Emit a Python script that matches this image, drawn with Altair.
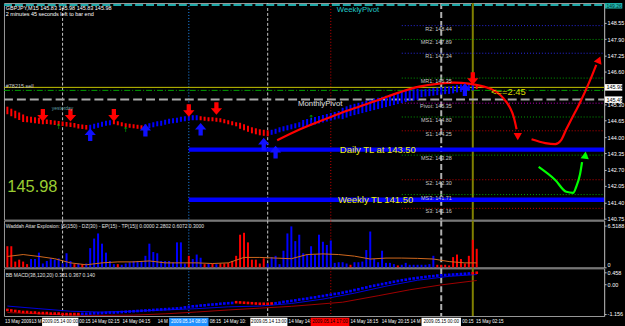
import altair as alt
import pandas as pd

# ---------------- x: M15 bar number, 0 = 2009.05.14 00:00 (4 bars per hour) ----------------
X_MIN, X_MAX = -14.86, 137.3
FIRST_BAR = -14

# ---------------- price panel ----------------
price_mid = [145.06, 144.98, 144.90, 144.83, 144.75, 144.71, 144.69, 144.67, 144.65, 144.63, 144.61, 144.59, 144.57, 144.55,
             144.53, 144.51, 144.49, 144.47, 144.43, 144.41, 144.39, 144.39, 144.43, 144.47, 144.51, 144.55, 144.57, 144.59,
             144.55, 144.51, 144.47, 144.45, 144.43, 144.41, 144.39, 144.41, 144.45, 144.49, 144.53, 144.55, 144.59, 144.63,
             144.65, 144.67, 144.71, 144.73, 144.75, 144.77, 144.77, 144.75, 144.73, 144.71, 144.71, 144.69, 144.67, 144.63,
             144.59, 144.55, 144.51, 144.45, 144.39, 144.33, 144.27, 144.23, 144.19, 144.17, 144.15, 144.19, 144.23, 144.29,
             144.33, 144.37, 144.41, 144.45, 144.49, 144.53, 144.57, 144.61, 144.65, 144.69, 144.73, 144.77, 144.81, 144.85,
             144.89, 144.94, 145.00, 145.06, 145.10, 145.14, 145.18, 145.22, 145.26, 145.30, 145.34, 145.38, 145.42, 145.46,
             145.50, 145.54, 145.58, 145.62, 145.66, 145.68, 145.70, 145.74, 145.76, 145.78, 145.80, 145.82, 145.84, 145.86,
             145.87, 145.89, 145.93, 145.95, 145.97, 145.99, 146.01, 146.01]
price_span_runs = [(0.30, 5), (0.24, 5), (0.18, 11), (0.20, 6), (0.16, 8), (0.20, 14), (0.16, 10), (0.24, 8),
                   (0.20, 8), (0.30, 10), (0.45, 20), (0.30, 14), (0.20, 1)]
price_dir_runs = [("down", 21), ("up", 6), ("down", 8), ("up", 14), ("down", 18), ("up", 52), ("down", 1)]

down_arrow_bar = [-5, 2, 13, 32, 39, 104]
down_arrow_price = [144.87, 144.87, 144.87, 145.06, 145.14, 146.33]
up_arrow_bar = [7, 21, 35, 51, 54, 102]
up_arrow_price = [144.09, 144.27, 144.31, 143.72, 143.40, 145.89]
tick_arrow_bar = [-1, 16, 63]
tick_arrow_price = [144.39, 144.27, 144.75]

pivot_names = ["R2", "MR2", "R1", "MR1", "Pivot", "MS1", "S1", "MS2", "S2", "MS3", "S3"]
pivot_levels = [148.44, 147.89, 147.34, 146.35, 145.35, 144.80, 144.25, 143.28, 142.30, 141.71, 141.16]
pivot_colours = ["#2828E6", "#00A000", "#2828E6", "#00A000", "#C000C0", "#00A000", "#C80000",
                 "#00A000", "#C80000", "#00A000", "#C80000"]
PIVOT_START = 86
PIVOT_LABEL_AT = 98.7

tl_names = ["Daily TL at 143.50", "Weekly TL 141.50"]
tl_levels = [143.50, 141.50]
tl_label_at = [70.3, 69.8]
TL_START = 32

hl_levels = [149.26, 145.98, 145.86, 145.50]
hl_colours = ["#1FA9A9", "#C8C800", "#00A000", "#A8A8A8"]
hl_dash = [[8, 3], [], [6, 2, 1, 2], [9, 4]]
hl_width = [2, 1, 1, 2]

vline_bars = [0, 32, 52, 68, 96, 104]
vline_colours = ["#C8C8C8", "#1E90FF", "#C8C8C8", "#D00000", "#B0B0B0", "#808000"]
vline_dash = [[3, 2], [1, 2], [3, 2], [1, 2], [6, 3], []]
vline_width = [1, 1, 1, 1, 2, 2]

curveA_bar = [54.4, 60.2, 65.2, 70.3, 75.3, 80.4, 85.4, 90.4, 95.5, 99.2, 103.0, 106.8, 109.8, 111.8, 113.4, 114.4, 115.1]
curveA_price = [143.87, 144.31, 144.63, 144.94, 145.22, 145.50, 145.78, 146.01, 146.13, 146.17, 146.13, 146.01,
                145.82, 145.54, 145.18, 144.79, 144.31]
curveB_bar = [118.9, 122.4, 124.9, 126.4, 127.7, 129.0, 131.2, 133.8, 135.3]
curveB_price = [143.91, 143.76, 143.72, 143.88, 144.31, 144.71, 145.38, 146.29, 146.88]
curveG_bar = [120.7, 124.9, 127.7, 129.5, 130.2, 131.2, 131.7]
curveG_price = [142.81, 142.29, 141.82, 141.78, 142.01, 142.53, 143.00]
head_bar = [115.4, 136.0, 132.5]
head_price = [144.02, 147.08, 143.28]
head_angle = [0, 22, 8]
head_colour = ["#FF0000", "#FF0000", "#00FF00"]

main_ticks = [148.55, 147.90, 147.25, 146.60, 145.30, 144.65, 144.00, 143.35, 142.70, 142.05, 141.40, 140.75]
box_price = [145.98, 145.49]
box_text = ["145.98", "145.49"]

# ---------------- Waddah Attar Explosion ----------------
wae_hist = [3.3, 3.3, 0.9, 1.2, 0.9, 0.5, 1.3, 1.3, 2.3, 0.6, 1.0, 1.4, 1.2, 1.4,
            0.6, 2.2, 1.0, 0.5, 0.6, 0.5, 0.6, 3.0, 4.5, 5.3, 3.7, 2.3, 1.0, 0.5,
            0.5, 0.4, 0.6, 0.8, 1.0, 1.0, 1.0, 1.8, 3.7, 2.4, 2.2, 1.0, 1.0, 1.0,
            0.8, 3.9, 3.9, 0.6, 1.8, 1.3, 2.0, 1.5, 0.5, 0.6, 0.6, 0.5, 0.6, 0.6,
            0.7, 1.0, 1.8, 5.1, 5.4, 3.9, 1.2, 1.2, 0.6, 1.4, 0.6, 1.6, 1.8, 0.5,
            2.6, 5.3, 6.4, 4.1, 5.1, 2.2, 2.0, 3.3, 2.0, 5.1, 4.0, 3.5, 4.2, 0.7,
            0.8, 0.8, 0.6, 0.4, 0.8, 0.8, 0.9, 2.7, 5.6, 1.3, 0.8, 2.6, 0.7, 0.7,
            0.5, 0.3, 0.4, 0.7, 0.4, 0.4, 0.4, 0.4, 0.4, 0.5, 1.8, 0.4, 0.4, 0.4,
            0.3, 1.6, 2.0, 1.3, 0.6, 1.8, 4.3, 2.9]
wae_colour = list("rrrrrrbbbbbbbb" "bbbrbrbbbbbbbb" "rbbbbbbbbbbbbb" "bbbbrbbbrbrbrr"
                  "rrrrrrrrrrbbbb" "bbbbbbbbbbbbbb" "bbbrbbbbbbbbbb" "brbbbbbbbbbrrr" "rrrrrrrr")
wae_line_bar = [-14, -10, -6, -2, 2, 6, 10, 14, 18, 22, 26, 30, 34, 38, 42, 46, 50, 54, 58, 62, 66, 70,
                74, 78, 82, 86, 90, 94, 98, 102, 105]
wae_line_val = [1.7, 2.0, 1.7, 1.35, 0.7, 0.4, 0.7, 0.85, 0.85, 1.0, 0.7, 0.7, 0.7, 0.6, 0.7, 1.55, 1.55, 1.45,
                1.35, 2.0, 2.1, 2.0, 1.75, 1.3, 1.45, 1.45, 1.4, 1.3, 0.9, 0.7, 0.7]

# ---------------- BB MACD ----------------
macd_dots = [-1.00, -1.02, -1.04, -1.06, -1.08, -1.08, -1.10, -1.10, -1.12, -1.12, -1.12, -1.14, -1.14, -1.14,
             -1.16, -1.16, -1.16, -1.16, -1.16, -1.15, -1.15, -1.14, -1.13, -1.13, -1.12, -1.11, -1.10, -1.10,
             -1.09, -1.08, -1.07, -1.06, -1.05, -1.04, -1.03, -1.02, -1.01, -1.00, -0.99, -0.98, -0.97, -0.96,
             -0.95, -0.94, -0.93, -0.90, -0.88, -0.86, -0.85, -0.83, -0.82, -0.80, -0.79, -0.78, -0.76, -0.75,
             -0.74, -0.73, -0.70, -0.71, -0.72, -0.73, -0.74, -0.75, -0.76, -0.76, -0.76, -0.75, -0.74, -0.72,
             -0.69, -0.67, -0.65, -0.63, -0.60, -0.58, -0.56, -0.53, -0.51, -0.48, -0.46, -0.43, -0.41, -0.38,
             -0.36, -0.33, -0.30, -0.27, -0.23, -0.20, -0.16, -0.13, -0.09, -0.06, -0.03, 0.00, 0.03, 0.06,
             0.09, 0.12, 0.15, 0.17, 0.20, 0.22, 0.24, 0.26, 0.28, 0.30, 0.31, 0.33, 0.34, 0.35,
             0.36, 0.37, 0.38, 0.39, 0.40, 0.41, 0.42, 0.44]
macd_dir_runs = [("down", 19), ("up", 39), ("down", 10), ("up", 50), ("down", 2)]
band_up_bar = [-14, -6, 2, 10, 18, 26, 34, 42, 50, 58, 66, 74, 82, 90, 98, 105]
band_up_val = [-0.85, -0.95, -1.05, -1.08, -1.05, -1.00, -0.95, -0.88, -0.85, -0.75, -0.58, -0.35, -0.08, 0.15, 0.30, 0.37]
band_lo_bar = [-14, -6, 2, 10, 18, 26, 34, 42, 50, 58, 63, 71, 80, 88, 96, 105]
band_lo_val = [-1.10, -1.15, -1.20, -1.21, -1.20, -1.15, -1.08, -1.00, -0.93, -0.86, -0.80, -0.70, -0.45, -0.22, -0.03, 0.14]

# ---------------- time strip ----------------
time_labels = ["13 May 2009", "13 M", "00:15", "14 May 02:15", "14 May 04:15", "14 M", "08:15", "14 May 10:",
               "14 May 14:", "14 May 18:15", "14 May 20:15", "14 M", "00:15", "15 May 02:15"]
time_label_bar = [-14.6, -7.9, 4.2, 7.4, 15.2, 24.1, 37.3, 40.8, 57.3, 73.0, 80.9, 88.2, 101.3, 104.8]
time_box_text = ["2009.05.14 00:00", "2009.05.14 08:00", "2009.05.14 13:00", "2009.05.14 17:00", "2009.05.15 00:00"]
time_box_bar = [-0.6, 32, 52.3, 67.8, 96]
time_box_half = [4.6, 5.0, 4.7, 4.9, 5.0]
time_box_fill = ["#FFFFFF", "#1E90FF", "#FFFFFF", "#FF0000", "#FFFFFF"]
time_box_ink = ["#000000", "#FFFFFF", "#000000", "#000000", "#000000"]


def expand(runs):
    out = []
    for v, k in runs:
        out += [v] * k
    return out


FONT = "Liberation Sans"
W = 604
xs = alt.Scale(domain=[X_MIN, X_MAX], nice=False, zero=False)


def X(f="n"):
    return alt.X(f"{f}:Q", scale=xs, axis=None)


def mark_kw(color, width, dash):
    kw = dict(color=color, strokeWidth=width)
    if dash:
        kw["strokeDash"] = dash
    return kw


def vlines():
    layers = []
    for b, c, d, w in zip(vline_bars, vline_colours, vline_dash, vline_width):
        df = pd.DataFrame({"n": [b]})
        layers.append(alt.Chart(df).mark_rule(**mark_kw(c, w, d)).encode(x=X()))
    return layers


# ================= main price panel =================
ys = alt.Scale(domain=[140.71, 149.34], nice=False, zero=False)
ax = alt.Axis(orient="right", values=main_ticks, format=".2f", title=None, labelFontSize=5.5, labelFont=FONT,
              labelColor="#FFFFFF", tickColor="#C0C0C0", tickSize=2, domainColor="#A0A0A0", grid=False,
              labelPadding=1, labelFlush=False, labelOverlap=False)


def YP(f):
    return alt.Y(f"{f}:Q", scale=ys, axis=ax)


L = vlines()

for lv, c, d, w in zip(hl_levels, hl_colours, hl_dash, hl_width):
    df = pd.DataFrame({"n": [X_MIN], "n2": [X_MAX], "p": [lv]})
    L.append(alt.Chart(df).mark_rule(**mark_kw(c, w, d)).encode(x=X(), x2="n2:Q", y=YP("p")))

piv = pd.DataFrame({"n": [PIVOT_START] * len(pivot_levels), "n2": [X_MAX] * len(pivot_levels),
                    "p": pivot_levels, "c": pivot_colours,
                    "lab": [f"{a}: {b:.2f}" for a, b in zip(pivot_names, pivot_levels)],
                    "lx": [PIVOT_LABEL_AT] * len(pivot_levels),
                    "lp": [v - 0.12 for v in pivot_levels]})
L.append(alt.Chart(piv).mark_rule(strokeWidth=1, strokeDash=[1, 2]).encode(
    x=X(), x2="n2:Q", y=YP("p"), color=alt.Color("c:N", scale=None)))

tl = pd.DataFrame({"n": [TL_START] * 2, "n2": [X_MAX] * 2, "p": tl_levels, "lab": tl_names, "lx": tl_label_at})
L.append(alt.Chart(tl).mark_rule(color="#0000FF", strokeWidth=4.5).encode(x=X(), x2="n2:Q", y=YP("p")))

bars = list(range(FIRST_BAR, FIRST_BAR + len(price_mid)))
span = expand(price_span_runs)
ha = pd.DataFrame({"n": bars, "lo": [m - s / 2 for m, s in zip(price_mid, span)],
                   "hi": [m + s / 2 for m, s in zip(price_mid, span)], "dir": expand(price_dir_runs)})
dir_col = alt.Color("dir:N", scale=alt.Scale(domain=["down", "up"], range=["#FF0000", "#0000FF"]), legend=None)
L.append(alt.Chart(ha).mark_rule(strokeWidth=2).encode(x=X(), y=YP("lo"), y2="hi:Q", color=dir_col))

for bb, pp, col in [(curveA_bar, curveA_price, "#FF0000"), (curveB_bar, curveB_price, "#FF0000"),
                    (curveG_bar, curveG_price, "#00FF00")]:
    df = pd.DataFrame({"n": bb, "p": pp, "o": list(range(len(bb)))})
    L.append(alt.Chart(df).mark_line(color=col, strokeWidth=2.2, interpolate="monotone").encode(
        x=X(), y=YP("p"), order="o:Q"))
heads = pd.DataFrame({"n": head_bar, "p": head_price, "a": head_angle, "c": head_colour})
L.append(alt.Chart(heads.iloc[[0]]).mark_point(shape="triangle-down", filled=True, size=70, opacity=1).encode(
    x=X(), y=YP("p"), color=alt.Color("c:N", scale=None)))
L.append(alt.Chart(heads.iloc[[1, 2]]).mark_point(shape="triangle-up", filled=True, size=70, opacity=1).encode(
    x=X(), y=YP("p"), angle=alt.Angle("a:Q", scale=None), color=alt.Color("c:N", scale=None)))

DOWN = "M-0.34,-1L0.34,-1L0.34,-0.05L0.9,-0.05L0,1L-0.9,-0.05L-0.34,-0.05Z"
UP = "M-0.34,1L0.34,1L0.34,0.05L0.9,0.05L0,-1L-0.9,0.05L-0.34,0.05Z"
L.append(alt.Chart(pd.DataFrame({"n": down_arrow_bar, "p": down_arrow_price})).mark_point(
    shape=DOWN, filled=True, size=160, color="#FF0000", opacity=1).encode(x=X(), y=YP("p")))
L.append(alt.Chart(pd.DataFrame({"n": up_arrow_bar, "p": up_arrow_price})).mark_point(
    shape=UP, filled=True, size=160, color="#1010FF", opacity=1).encode(x=X(), y=YP("p")))
L.append(alt.Chart(pd.DataFrame({"n": tick_arrow_bar, "p": tick_arrow_price})).mark_text(
    text="↑", fontSize=7, color="#00B000", font="DejaVu Sans").encode(x=X(), y=YP("p")))


def txt(n, p, s, size, color, align="left", font=FONT):
    df = pd.DataFrame({"n": [n], "p": [p], "t": [s]})
    return alt.Chart(df).mark_text(align=align, baseline="middle", fontSize=size, color=color,
                                   font=font).encode(x=X(), y=YP("p"), text="t:N")


L.append(alt.Chart(piv).mark_text(align="right", baseline="middle", fontSize=5.5, font=FONT, color="#C8C8C8").encode(
    x=X("lx"), y=YP("lp"), text="lab:N"))
L.append(alt.Chart(tl).mark_text(align="left", baseline="middle", fontSize=9.5, font=FONT, color="#F0F000").encode(
    x=X("lx"), y=YP("p"), text="lab:N"))
L.append(txt(-14.4, 149.14, "GBPJPY,M15  145.83 145.98 145.83 145.98", 5.5, "#FFFFFF"))
L.append(txt(-14.4, 148.92, "2 minutes 45 seconds left to bar end", 5.5, "#FFFFFF"))
L.append(txt(-14.4, 146.02, "#78215 sell", 5.5, "#C8C8C8"))
L.append(txt(0, 145.16, "yesterday", 5, "#5F9EA0", align="center"))
L.append(txt(59.7, 145.30, "MonthlyPivot", 7.8, "#E0E0E0"))
L.append(txt(69.5, 149.06, "WeeklyPivot", 7.8, "#20C8C8"))
L.append(txt(108.6, 145.78, "<==2:45", 9.5, "#D8D800"))
L.append(txt(-14.0, 142.02, "145.98", 16.5, "#9ACD32"))

bx = pd.DataFrame({"n": [137.5] * 2, "n2": [141.9] * 2, "lo": [b - 0.13 for b in box_price],
                   "hi": [b + 0.13 for b in box_price], "p": box_price, "t": box_text, "tx": [137.9] * 2})
L.append(alt.Chart(bx).mark_rect(color="#FFFFFF").encode(x=X(), x2="n2:Q", y=YP("lo"), y2="hi:Q"))
L.append(alt.Chart(bx).mark_text(align="left", baseline="middle", fontSize=5.5, font=FONT, color="#000000").encode(
    x=X("tx"), y=YP("p"), text="t:N"))
cy = pd.DataFrame({"n": [137.5], "n2": [141.9], "lo": [149.12], "hi": [149.34], "p": [149.23], "t": ["149.26"],
                   "tx": [137.9]})
L.append(alt.Chart(cy).mark_rect(color="#20B2AA").encode(x=X(), x2="n2:Q", y=YP("lo"), y2="hi:Q"))
L.append(alt.Chart(cy).mark_text(align="left", baseline="middle", fontSize=5, font=FONT, color="#003030").encode(
    x=X("tx"), y=YP("p"), text="t:N"))

main = alt.layer(*L).properties(width=W, height=218)

# ================= Waddah Attar panel =================
ysw = alt.Scale(domain=[0, 7.3], nice=False, zero=False)
axw = alt.Axis(orient="right", values=[0, 6.5188], labelExpr="datum.value == 0 ? '0' : '6.5188'", title=None,
               labelFontSize=5.5, labelFont=FONT, labelColor="#FFFFFF", tickColor="#C0C0C0", tickSize=2,
               domainColor="#A0A0A0", grid=False, labelPadding=1, labelFlush=True, labelOverlap=False)
wdf = pd.DataFrame({"n": bars, "v": wae_hist, "z": [0] * len(bars),
                    "dir": ["down" if c == "r" else "up" for c in wae_colour]})
WL = vlines()
WL.append(alt.Chart(wdf).mark_rule(strokeWidth=2).encode(
    x=X(), y=alt.Y("v:Q", scale=ysw, axis=axw), y2="z:Q", color=dir_col))
WL.append(alt.Chart(pd.DataFrame({"n": wae_line_bar, "v": wae_line_val})).mark_line(
    color="#D2691E", strokeWidth=1).encode(x=X(), y=alt.Y("v:Q", scale=ysw, axis=axw)))
WL.append(alt.Chart(pd.DataFrame({"n": [-14.4], "v": [6.5],
                                  "t": ["Waddah Attar Explosion: [S(150) - DZ(30) - EP(15) - TP(15)] 0.0000 2.2802 0.6072 0.3000"]})
          ).mark_text(align="left", baseline="middle", fontSize=5, font=FONT, color="#E0E0E0").encode(
    x=X(), y=alt.Y("v:Q", scale=ysw, axis=axw), text="t:N"))
wae = alt.layer(*WL).properties(width=W, height=47)

# ================= BB MACD panel =================
ysm = alt.Scale(domain=[-1.235, 0.61], nice=False, zero=False)
axm = alt.Axis(orient="right", values=[-1.156, 0, 0.458],
               labelExpr="datum.value == 0 ? '0.00' : (datum.value > 0 ? '0.458' : '-1.156')", title=None,
               labelFontSize=5.5, labelFont=FONT, labelColor="#FFFFFF", tickColor="#C0C0C0", tickSize=2,
               domainColor="#A0A0A0", grid=False, labelPadding=1, labelFlush=False, labelOverlap=False)
mdf = pd.DataFrame({"n": bars, "v": macd_dots, "dir": expand(macd_dir_runs)})
ML = vlines()
ML.append(alt.Chart(pd.DataFrame({"n": band_lo_bar, "v": band_lo_val})).mark_line(
    color="#A00000", strokeWidth=1).encode(x=X(), y=alt.Y("v:Q", scale=ysm, axis=axm)))
ML.append(alt.Chart(pd.DataFrame({"n": band_up_bar, "v": band_up_val})).mark_line(
    color="#0000E0", strokeWidth=1).encode(x=X(), y=alt.Y("v:Q", scale=ysm, axis=axm)))
ML.append(alt.Chart(mdf).mark_square(size=7, opacity=1).encode(
    x=X(), y=alt.Y("v:Q", scale=ysm, axis=axm), color=dir_col))
ML.append(alt.Chart(pd.DataFrame({"n": [-14.4], "v": [0.37], "t": ["BB MACD(38,120,20) 0.381 0.367 0.140"]})
          ).mark_text(align="left", baseline="middle", fontSize=5, font=FONT, color="#E0E0E0").encode(
    x=X(), y=alt.Y("v:Q", scale=ysm, axis=axm), text="t:N"))
macd = alt.layer(*ML).properties(width=W, height=48)

# ================= time strip =================
yst = alt.Scale(domain=[0, 1], nice=False, zero=False)
tdf = pd.DataFrame({"n": time_label_bar, "y": [0.5] * len(time_labels), "t": time_labels})
bdf = pd.DataFrame({"n": [b - h for b, h in zip(time_box_bar, time_box_half)],
                    "n2": [b + h for b, h in zip(time_box_bar, time_box_half)],
                    "c": time_box_fill, "k": time_box_ink, "t": time_box_text, "m": time_box_bar,
                    "y0": [0.08] * 5, "y1": [0.92] * 5, "y": [0.5] * 5})
SL = [
    alt.Chart(tdf).mark_text(align="left", baseline="middle", fontSize=4.6, font=FONT, color="#FFFFFF").encode(
        x=X(), y=alt.Y("y:Q", scale=yst, axis=None), text="t:N"),
    alt.Chart(bdf).mark_rect().encode(x=X(), x2="n2:Q", y=alt.Y("y0:Q", scale=yst, axis=None), y2="y1:Q",
                                      color=alt.Color("c:N", scale=None)),
    alt.Chart(bdf).mark_text(align="center", baseline="middle", fontSize=4.6, font=FONT).encode(
        x=X("m"), y=alt.Y("y:Q", scale=yst, axis=None), text="t:N", color=alt.Color("k:N", scale=None)),
]
strip = alt.layer(*SL).properties(width=W, height=10, view=alt.ViewBackground(stroke="#000000"))

chart = alt.vconcat(main, wae, macd, strip, spacing=1, bounds="flush").configure(
    background="#000000", padding={"left": 2, "top": 0, "right": 0, "bottom": 0}
).configure_view(stroke="#9A9A9A", strokeWidth=1)

chart.save("out.html", embed_options={"renderer": "svg", "actions": False})
